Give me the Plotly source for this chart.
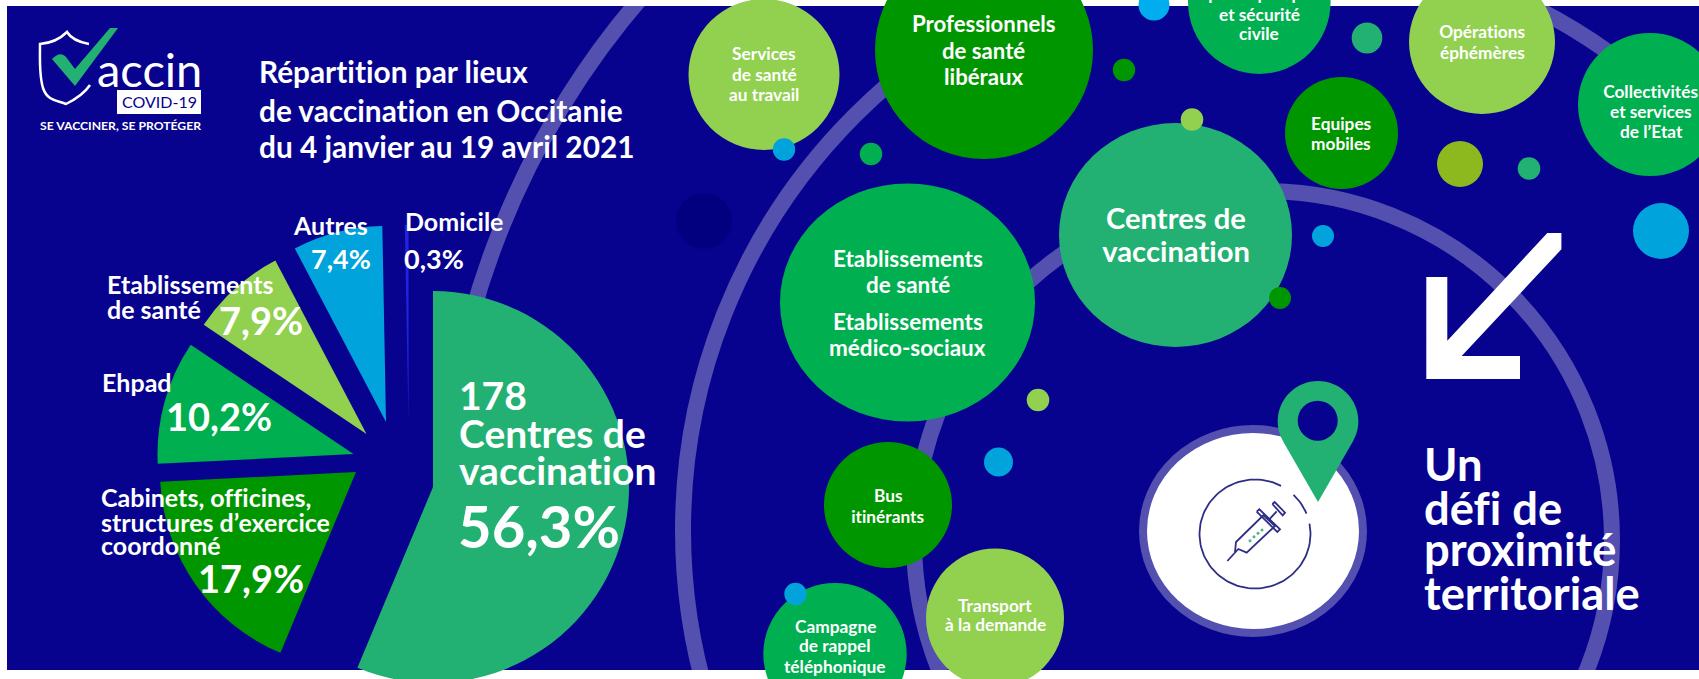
import math
import plotly.graph_objects as go

# ---- data ----
categories = ["Centres de vaccination", "Cabinets, officines, structures d'exercice coordonné",
              "Ehpad", "Etablissements de santé", "Autres", "Domicile"]
values = [56.3, 17.9, 10.2, 7.9, 7.4, 0.3]

# ---- palette ----
NAVY = "#08038E"
RING = "#5450AF"
TEAL = "#23B173"
DGREEN = "#009600"
GREEN = "#00AF50"
LIME = "#92D050"
BLUE = "#00A3DC"
SKY = "#00AEEF"
OLIVE = "#8DB91E"
INDIGO = "#2222E0"
slice_colors = [TEAL, DGREEN, GREEN, LIME, BLUE, INDIGO]
# where the tip of each exploded slice sits on the page
slice_tips = [(433, 487), (356, 472), (353.5, 454), (366.5, 434), (386, 422), (408.5, 421)]
PIE_R = 196

W, H = 1699, 700
FONT = "Lato"


def ell(cx, cy, rx, ry, fill, line=None, lw=0):
    return dict(type="circle", xref="x", yref="y", layer="below",
                x0=cx - rx, x1=cx + rx, y0=cy - ry, y1=cy + ry,
                fillcolor=fill, line=dict(color=line or fill, width=lw))


def rect(x0, y0, x1, y1, fill):
    return dict(type="rect", xref="x", yref="y", layer="below", x0=x0, x1=x1, y0=y0, y1=y1,
                fillcolor=fill, line=dict(width=0))


def path(d, fill=None, line=None, lw=0):
    s = dict(type="path", xref="x", yref="y", layer="below", path=d, line=dict(width=lw, color=line or "rgba(0,0,0,0)"))
    if fill:
        s["fillcolor"] = fill
    return s


def poly(pts):
    return "M " + " L ".join(f"{x} {y}" for x, y in pts) + " Z"


shapes = [rect(7, 6, W, 670, NAVY)]
# three concentric rings
for cx, cy, r in [(1266, 535, 824), (1269, 530, 586), (1263, 540, 349)]:
    shapes.append(dict(type="circle", xref="x", yref="y", layer="below", x0=cx - r, x1=cx + r, y0=cy - r, y1=cy + r,
                       line=dict(color=RING, width=16), fillcolor="rgba(0,0,0,0)"))
shapes += [rect(0, 0, W, 6, "white"), rect(0, 670, W, H, "white"), rect(0, 0, 7, H, "white")]

# bubbles
shapes += [
    ell(704, 221, 28, 28, "#030080"),
    ell(764, 74.5, 75.5, 75.5, LIME),
    ell(784, 149.5, 11.2, 11.2, BLUE),
    ell(871, 154, 11.2, 11.2, GREEN),
    ell(984, 50, 109, 109, DGREEN),
    ell(907.5, 302.5, 127.5, 119, GREEN),
    ell(1175.5, 235, 116.5, 112, TEAL),
    ell(1192, 119.5, 11.3, 11.3, LIME),
    ell(1280, 298, 11, 11, DGREEN),
    ell(1323, 236, 11, 11, BLUE),
    ell(888, 505, 64, 63, DGREEN),
    ell(995, 618, 69, 69.5, LIME),
    ell(835, 654, 71.7, 71, GREEN),
    ell(795.5, 594, 11.2, 11.2, BLUE),
    ell(998.5, 462, 14.5, 14.5, BLUE),
    ell(1038, 400, 11.3, 11.3, LIME),
    ell(1124, 70, 11.2, 11.2, DGREEN),
    ell(1154, 5, 15.5, 15.5, SKY),
    ell(1259.3, 2, 71.3, 72, GREEN),
    ell(1367, 38, 15.3, 15.5, TEAL),
    ell(1482, 42, 73, 72, LIME),
    ell(1650, 104.5, 72, 71.5, GREEN),
    ell(1341.5, 133, 56.5, 56, DGREEN),
    ell(1460, 164, 23, 23, OLIVE),
    ell(1529, 168.5, 11.3, 11.3, TEAL),
    ell(1661, 231, 28, 28, BLUE),
    ell(1253, 531, 110, 102, "white", RING, 8),
]
# map pin
shapes.append(path("M 1318 502 L 1284 443 C 1279 434 1277.7 428 1277.7 421 C 1277.7 399 1296 381 1318 381 "
                   "C 1340 381 1358.3 399 1358.3 421 C 1358.3 428 1357 434 1352 443 Z", fill=TEAL))
shapes.append(ell(1317.7, 420.7, 20, 20, NAVY))
# arrow
shapes.append(path(poly([(1547.3, 233), (1561.4, 233), (1561.4, 249.3), (1461.7, 356), (1520, 356), (1520, 379),
                         (1426.3, 379), (1426.3, 277), (1447.3, 277), (1447.3, 340.7)]), fill="white"))
# logo
shapes.append(path("M 89 44 C 78 42 70 37 67 32 C 60 39 52 43 40 44 C 40 60 39 75 43 88 C 47 100 55 100 66 104 "
                   "C 74 100 84 94 90 85", line="white", lw=2.5))
shapes.append(path("M 52 59 C 58 53 62 53 66 57 L 75 69 L 110 28 L 118 28 L 75 86 Z", fill=TEAL))
shapes.append(rect(117, 90, 201, 114, "white"))

fig = go.Figure()

# pie: one trace per exploded slice, each placed by its own tip
start = 0.0
for name, v, col, (tx, ty) in zip(categories, values, slice_colors, slice_tips):
    fig.add_trace(go.Pie(
        values=[v, 100 - v], labels=[name, "reste"], sort=False, direction="clockwise",
        rotation=start * 3.6, textinfo="none", hoverinfo="skip", showlegend=False,
        marker=dict(colors=[col, "rgba(0,0,0,0)"], line=dict(width=0)),
        domain=dict(x=[(tx - PIE_R) / W, (tx + PIE_R) / W], y=[1 - (ty + PIE_R) / H, 1 - (ty - PIE_R) / H]),
    ))
    start += v

# syringe icon
ICON = "#2E2E85"
def z(X, Y):
    return 1100 + X / 3, 370 + Y / 3

ax, ay = [], []
for a0, a1 in [(79, 389), (44, 70)]:
    for a in range(a0, a1 + 1, 3):
        t = math.radians(a)
        ax.append(1255 + 55.5 * math.sin(t))
        ay.append(534 - 54.5 * math.cos(t))
    ax.append(None)
    ay.append(None)
strokes = [
    [(382, 573), (405, 546), (415, 537), (440, 548), (525, 468), (490, 436), (408, 516), (405, 546)],
    [(470, 425), (478, 418), (540, 478), (532, 486), (470, 425)],
    [(506, 450), (530, 424)],
    [(517, 402), (524, 396), (555, 428), (548, 436), (517, 402)],
]
sx, sy = list(ax), list(ay)
for st in strokes:
    for p in st:
        x, y = z(*p)
        sx.append(x)
        sy.append(y)
    sx.append(None)
    sy.append(None)
fig.add_trace(go.Scatter(x=sx, y=sy, mode="lines", line=dict(color=ICON, width=1.8), hoverinfo="skip", showlegend=False))
dx, dy = [], []
for p in [(450, 512), (462, 500), (474, 490), (486, 480)]:
    x, y = z(*p)
    dx.append(x)
    dy.append(y)
fig.add_trace(go.Scatter(x=dx, y=dy, mode="markers", marker=dict(color="#4FB58A", size=3), hoverinfo="skip", showlegend=False))

annotations = []


def T(x, y, s, size, anchor="center", color="white", bold=True, font=FONT):
    annotations.append(dict(xref="paper", yref="paper", x=x / W, y=1 - y / H, text=f"<b>{s}</b>" if bold else s,
                            showarrow=False, xanchor=anchor, yanchor="middle", align=anchor,
                            borderpad=0, font=dict(family=font, size=size, color=color)))


# title
T(258, 71, "Répartition par lieux", 29.8, "left")
T(258, 110, "de vaccination en Occitanie", 29.8, "left")
T(258, 147, "du 4 janvier au 19 avril 2021", 29.8, "left")
# logo text
T(96, 69, "accin", 47, "left", bold=False)
T(159, 102, "COVID-19", 16, "center", color=NAVY, bold=False)
T(120, 125, "SE VACCINER, SE PROTÉGER", 12.2, "center")
# pie labels
T(292, 225, "Autres", 25, "left")
T(310, 258, "7,4%", 27, "left")
T(404, 221, "Domicile", 25, "left")
T(403, 258, "0,3%", 27, "left")
T(106, 284, "Etablissements", 25, "left")
T(106, 309, "de santé", 25, "left")
T(218, 320, "7,9%", 38, "left")
T(101, 382, "Ehpad", 25, "left")
T(165, 416, "10,2%", 38, "left")
T(100, 497, "Cabinets, officines,", 25, "left")
T(100, 522, "structures d’exercice", 25, "left")
T(100, 545, "coordonné", 25, "left")
T(197, 578, "17,9%", 38, "left")
T(458, 395, "178", 39, "left")
T(458, 433, "Centres de", 39, "left")
T(458, 470, "vaccination", 39, "left")
T(457, 525, "56,3%", 58, "left")
# bubble labels
for x, ys, lines, size in [
    (764, [53, 74, 94], ["Services", "de santé", "au travail"], 17.3),
    (984, [24, 51, 77], ["Professionnels", "de santé", "libéraux"], 22.2),
    (907.7, [258, 284, 321, 347], ["Etablissements", "de santé", "Etablissements", "médico-sociaux"], 22.5),
    (888, [496, 516], ["Bus", "itinérants"], 17.3),
    (995, [605, 624], ["Transport", "à la demande"], 17.3),
    (835, [626, 645, 666], ["Campagne", "de rappel", "téléphonique"], 17.3),
    (1176, [218, 251], ["Centres de", "vaccination"], 29.2),
    (1259, [-6, 14, 33], ["Sapeurs-pompiers", "et sécurité", "civile"], 17.3),
    (1482, [32, 52], ["Opérations", "éphémères"], 17.3),
    (1341, [123, 143], ["Equipes", "mobiles"], 17.3),
    (1651, [91, 111, 131], ["Collectivités", "et services", "de l’Etat"], 17.3),
]:
    for y, s in zip(ys, lines):
        T(x, y, s, size)
for y, s in [(463, "Un"), (507, "défi de"), (548, "proximité"), (592, "territoriale")]:
    T(1423, y, s, 45.3, "left")

fig.update_layout(
    width=W, height=H, margin=dict(l=0, r=0, t=0, b=0, pad=0), paper_bgcolor="white", plot_bgcolor="rgba(0,0,0,0)",
    xaxis=dict(visible=False, range=[0, W], fixedrange=True),
    yaxis=dict(visible=False, range=[H, 0], fixedrange=True),
    shapes=shapes, annotations=annotations, showlegend=False, hovermode=False,
)

fig.write_html("out.html", config=dict(displayModeBar=False),
               post_script="document.body.style.margin='0';document.documentElement.style.overflow='hidden';"
                           "document.body.style.overflow='hidden';"
                           "var s=document.createElement('style');"
                           "s.textContent='text,tspan{font-variant-ligatures:none!important;"
                           "font-feature-settings:\"liga\" 0,\"clig\" 0,\"dlig\" 0!important}';"
                           "document.head.appendChild(s);")
